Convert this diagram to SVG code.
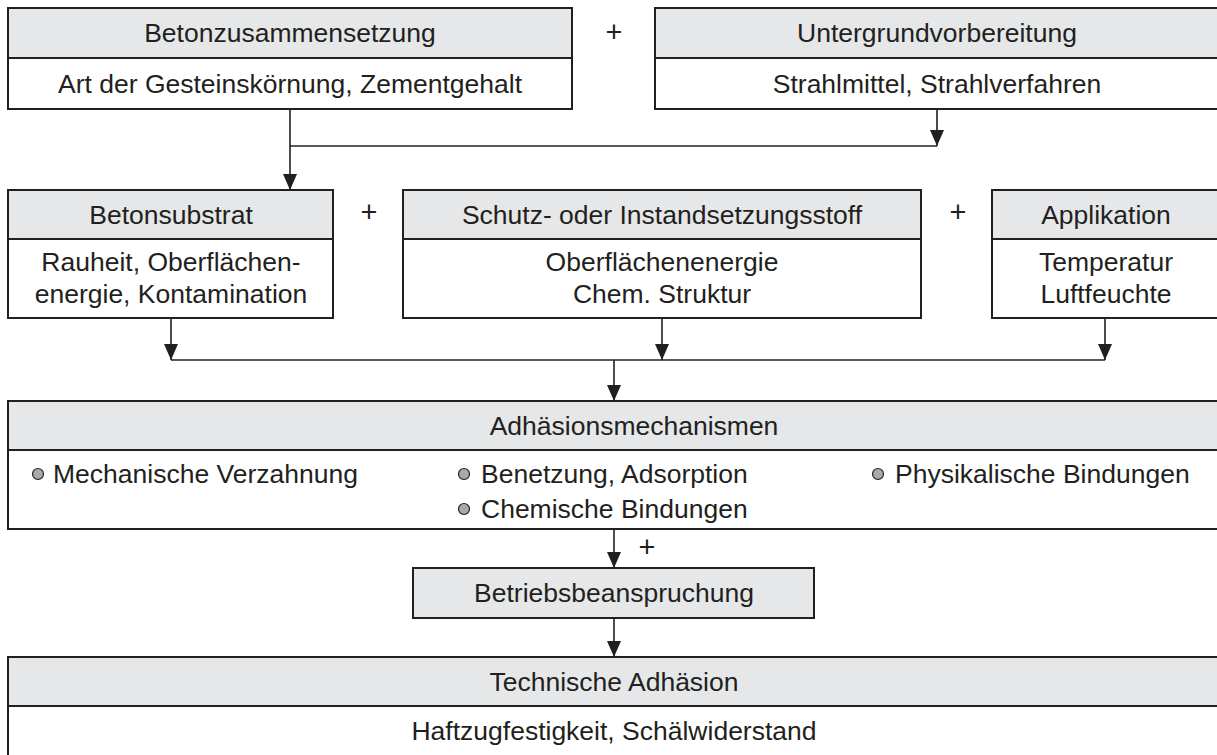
<svg xmlns="http://www.w3.org/2000/svg" width="1217" height="755" viewBox="0 0 1217 755">
<style>
.hd{fill:#e6e7e8;stroke:#231f20;stroke-width:2}
.bd{fill:#ffffff;stroke:#231f20;stroke-width:2}
.t{font-family:"Liberation Sans",Arial,sans-serif;font-size:26.5px;fill:#231f20;text-anchor:middle}
.p{font-size:29px}
.l{text-anchor:start}
.ln{fill:none;stroke:#231f20;stroke-width:1.6}
.bu{fill:#a7a9ac;stroke:#231f20;stroke-width:1.2}
</style>
<defs>
<marker id="ah" viewBox="0 0 16 14" refX="16" refY="7" markerWidth="16" markerHeight="14" markerUnits="userSpaceOnUse" orient="auto">
<path d="M0,0 L16,7 L0,14 z" fill="#231f20"/>
</marker>
</defs>
<rect width="1217" height="755" fill="#ffffff"/>

<g id="connectors">
<path class="ln" d="M290,109 V190" marker-end="url(#ah)"/>
<path class="ln" d="M290,146 H937"/>
<path class="ln" d="M937,109 V146" marker-end="url(#ah)"/>
<path class="ln" d="M171,318 V360" marker-end="url(#ah)"/>
<path class="ln" d="M662,318 V360" marker-end="url(#ah)"/>
<path class="ln" d="M1105,318 V360" marker-end="url(#ah)"/>
<path class="ln" d="M171,360 H1105"/>
<path class="ln" d="M614,360 V401" marker-end="url(#ah)"/>
<path class="ln" d="M614,529 V568" marker-end="url(#ah)"/>
<path class="ln" d="M614,618 V657" marker-end="url(#ah)"/>
<text class="t p" x="614" y="42">+</text>
<text class="t p" x="369" y="222">+</text>
<text class="t p" x="958" y="222">+</text>
<text class="t p" x="647" y="557">+</text>
</g>

<g id="betonzusammensetzung">
<rect class="bd" x="8" y="58" width="564" height="51"/>
<rect class="hd" x="8" y="8" width="564" height="50"/>
<text class="t" x="290" y="42">Betonzusammensetzung</text>
<text class="t" x="290" y="93">Art der Gesteinskörnung, Zementgehalt</text>
</g>

<g id="untergrundvorbereitung">
<rect class="bd" x="655" y="58" width="600" height="51"/>
<rect class="hd" x="655" y="8" width="600" height="50"/>
<text class="t" x="937" y="42">Untergrundvorbereitung</text>
<text class="t" x="937" y="93">Strahlmittel, Strahlverfahren</text>
</g>

<g id="betonsubstrat">
<rect class="bd" x="8" y="239" width="325" height="79"/>
<rect class="hd" x="8" y="190" width="325" height="49"/>
<text class="t" x="171" y="224">Betonsubstrat</text>
<text class="t" x="171" y="271">Rauheit, Oberflächen-</text>
<text class="t" x="171" y="303">energie, Kontamination</text>
</g>

<g id="schutzstoff">
<rect class="bd" x="403" y="239" width="518" height="79"/>
<rect class="hd" x="403" y="190" width="518" height="49"/>
<text class="t" x="662" y="224">Schutz- oder Instandsetzungsstoff</text>
<text class="t" x="662" y="271">Oberflächenenergie</text>
<text class="t" x="662" y="303">Chem. Struktur</text>
</g>

<g id="applikation">
<rect class="bd" x="992" y="239" width="260" height="79"/>
<rect class="hd" x="992" y="190" width="260" height="49"/>
<text class="t" x="1106" y="224">Applikation</text>
<text class="t" x="1106" y="271">Temperatur</text>
<text class="t" x="1106" y="303">Luftfeuchte</text>
</g>

<g id="adhaesionsmechanismen">
<rect class="bd" x="8" y="450" width="1250" height="79"/>
<rect class="hd" x="8" y="401" width="1250" height="49"/>
<text class="t" x="634" y="435">Adhäsionsmechanismen</text>
<circle class="bu" cx="38" cy="474" r="5.5"/>
<text class="t l" x="53" y="483">Mechanische Verzahnung</text>
<circle class="bu" cx="464" cy="474" r="5.5"/>
<text class="t l" x="481" y="483">Benetzung, Adsorption</text>
<circle class="bu" cx="464" cy="509" r="5.5"/>
<text class="t l" x="481" y="518">Chemische Bindungen</text>
<circle class="bu" cx="878" cy="474" r="5.5"/>
<text class="t l" x="895" y="483">Physikalische Bindungen</text>
</g>

<g id="betriebsbeanspruchung">
<rect class="hd" x="413" y="568" width="401" height="50"/>
<text class="t" x="614" y="602">Betriebsbeanspruchung</text>
</g>

<g id="technische-adhaesion">
<rect class="bd" x="8" y="706" width="1250" height="60"/>
<rect class="hd" x="8" y="657" width="1250" height="49"/>
<text class="t" x="614" y="691">Technische Adhäsion</text>
<text class="t" x="614" y="740">Haftzugfestigkeit, Schälwiderstand</text>
</g>
</svg>
